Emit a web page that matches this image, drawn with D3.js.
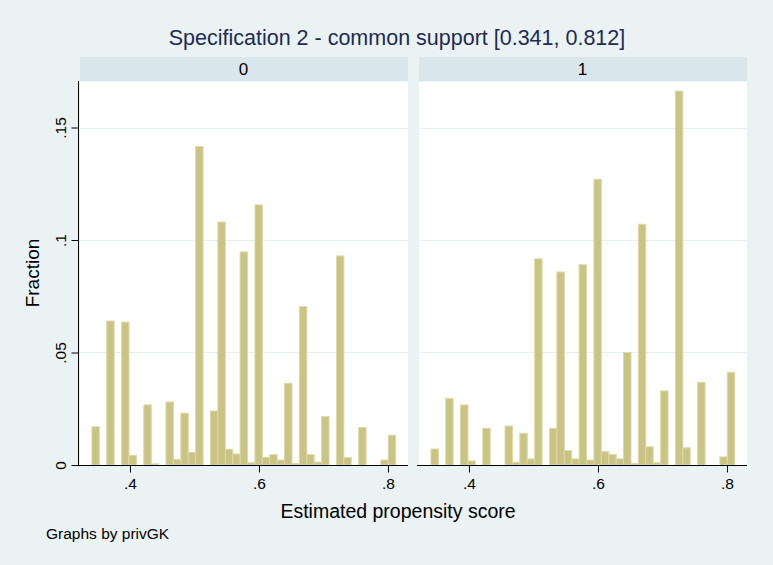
<!DOCTYPE html>
<html>
<head>
<meta charset="utf-8">
<script src="https://cdnjs.cloudflare.com/ajax/libs/d3/7.8.5/d3.min.js"></script>
<style>
  body { margin: 0; background: #eaf2f3; }
  svg { display: block; font-family: "Liberation Sans", Arial, sans-serif; }
</style>
</head>
<body>
<script>
// histogram bins: common support range split into equal bins
const supportLo = 0.341, supportHi = 0.812, nBins = 41;
const panelNames = ['0', '1'];
// fraction per bin, one array per privGK group
const frac0 = [0.017, 0, 0.064, 0, 0.0635, 0.0043, 0, 0.0267, 0.0005, 0,
               0.028, 0.0025, 0.023, 0.0056, 0.1416, 0, 0.024, 0.108, 0.007, 0.0049,
               0.0947, 0.001, 0.1156, 0.0034, 0.0046, 0.0022, 0.0363, 0.0007, 0.0704, 0.0046,
               0.0013, 0.0215, 0, 0.0929, 0.0033, 0, 0.0166, 0, 0, 0.0022,
               0.0132];
const frac1 = [0.0071, 0, 0.0296, 0, 0.0267, 0.0018, 0, 0.0163, 0, 0,
               0.0173, 0.0012, 0.0141, 0.0027, 0.0916, 0, 0.0163, 0.0858, 0.0065, 0.0027,
               0.089, 0.0022, 0.127, 0.0059, 0.0046, 0.0027, 0.05, 0.0007, 0.107, 0.0081,
               0.001, 0.0329, 0, 0.1662, 0.0076, 0, 0.0367, 0, 0, 0.0036,
               0.0412];
const xTicks = [0.4, 0.6, 0.8];
const yTicks = [0, 0.05, 0.1, 0.15];
const yTickLabels = ['0', '.05', '.1', '.15'];

const W = 773, H = 565;
const svg = d3.select('body').append('svg')
    .attr('width', W).attr('height', H);

svg.append('rect').attr('width', W).attr('height', H).attr('fill', '#eaf2f3');

// title
svg.append('text')
    .attr('x', 397).attr('y', 45)
    .attr('text-anchor', 'middle')
    .attr('font-size', 21.5)
    .attr('fill', '#1e2b52')
    .text('Specification 2 - common support [0.341, 0.812]');

const binW = (supportHi - supportLo) / nBins;
const panels = [
    {name: panelNames[0], left: 80, right: 407, data: frac0},
    {name: panelNames[1], left: 419, right: 746, data: frac1}
];

const yScale = d3.scaleLinear().domain([0, 0.17]).range([465, 82.5]);

panels.forEach(function(p, pi) {
    const x = d3.scaleLinear().domain([0.3225, 0.8295]).range([p.left, p.right]);
    const g = svg.append('g');

    // strip
    g.append('rect')
        .attr('x', p.left).attr('y', 57)
        .attr('width', p.right - p.left + 1).attr('height', 24.5)
        .attr('fill', '#d9e6eb');
    g.append('text')
        .attr('x', (p.left + p.right) / 2).attr('y', 75)
        .attr('text-anchor', 'middle')
        .attr('font-size', 17)
        .attr('fill', '#000')
        .text(p.name);

    // plot area
    g.append('rect')
        .attr('x', p.left).attr('y', 81.5)
        .attr('width', p.right - p.left + 1).attr('height', 465 - 81.5)
        .attr('fill', '#fff');

    // gridlines
    g.selectAll('line.grid')
        .data(yTicks.slice(1))
        .enter().append('line')
        .attr('x1', p.left).attr('x2', p.right + 1)
        .attr('y1', d => Math.round(yScale(d)) + 0.5)
        .attr('y2', d => Math.round(yScale(d)) + 0.5)
        .attr('stroke', '#e6eff2')
        .attr('stroke-width', 1);

    // bars
    g.selectAll('rect.bar')
        .data(p.data)
        .enter().append('rect')
        .attr('class', 'bar')
        .attr('x', (d, i) => x(supportLo + i * binW))
        .attr('width', x(supportLo + binW) - x(supportLo))
        .attr('y', d => yScale(d))
        .attr('height', d => 465 - yScale(d))
        .attr('fill', d => d > 0 ? '#cac484' : 'none')
        .attr('stroke', d => d > 0 ? '#dcd8a8' : 'none')
        .attr('stroke-width', 1);

    // x axis
    const xAxis = d3.axisBottom(x)
        .tickValues(xTicks)
        .tickSize(7)
        .tickPadding(5)
        .tickFormat(d => d3.format('.1f')(d).replace(/^0/, ''));
    const ax = g.append('g')
        .attr('transform', 'translate(0,465.5)')
        .call(xAxis);
    ax.select('.domain').attr('d', 'M' + (p.left - 2) + ',0H' + (p.right + 1));
    ax.selectAll('text').attr('font-size', 15.5).attr('font-family', null).attr('fill', '#000');
    ax.selectAll('line').attr('stroke', '#000');

    // y axis (left panel only)
    if (pi === 0) {
        const yAxis = d3.axisLeft(yScale)
            .tickValues(yTicks)
            .tickSize(7)
            .tickFormat((d, i) => yTickLabels[i]);
        const ay = g.append('g')
            .attr('transform', 'translate(78.5,0)')
            .call(yAxis);
        ay.select('.domain').attr('d', 'M0,81V466');
        ay.selectAll('line').attr('stroke', '#000');
        ay.selectAll('text')
            .attr('font-size', 15.5).attr('font-family', null).attr('fill', '#000')
            .attr('x', null).attr('dy', null)
            .attr('text-anchor', 'middle')
            .attr('transform', 'translate(-13,0) rotate(-90)');
    }
});

// axis titles
svg.append('text')
    .attr('transform', 'translate(39,273) rotate(-90)')
    .attr('text-anchor', 'middle')
    .attr('font-size', 19)
    .attr('fill', '#000')
    .text('Fraction');

svg.append('text')
    .attr('x', 398).attr('y', 518)
    .attr('text-anchor', 'middle')
    .attr('font-size', 19.5)
    .attr('fill', '#000')
    .text('Estimated propensity score');

svg.append('text')
    .attr('x', 46).attr('y', 539)
    .attr('font-size', 15.5)
    .attr('fill', '#000')
    .text('Graphs by privGK');
</script>
</body>
</html>
